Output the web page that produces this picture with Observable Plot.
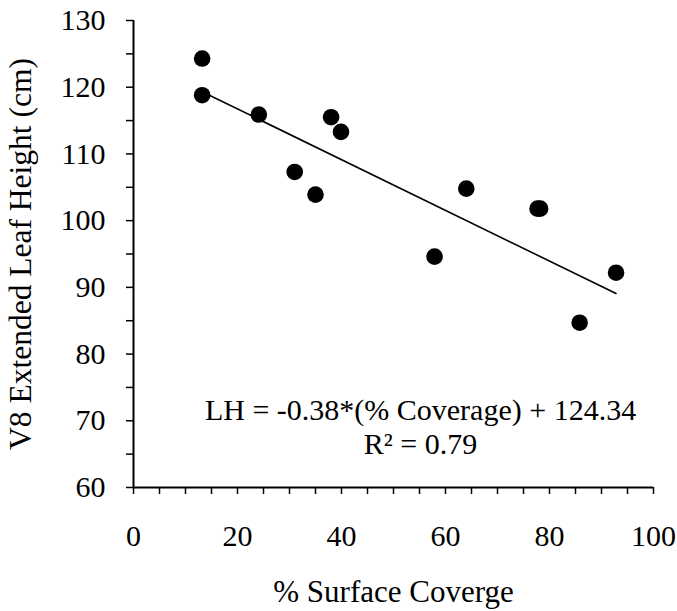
<!DOCTYPE html>
<html>
<head>
<meta charset="utf-8">
<script src="https://cdn.jsdelivr.net/npm/d3@7"></script>
<script src="https://cdn.jsdelivr.net/npm/@observablehq/plot@0.6"></script>
<style>
  body { margin: 0; background: #fff; }
</style>
</head>
<body>
<div id="chart"></div>
<script>
// Data
const coverage   = [13.2, 13.2, 24.1, 31.0, 35.0, 38.0, 39.9, 57.9, 64.0, 77.7, 78.2, 85.8, 92.8];
const leafHeight = [124.3, 118.8, 115.9, 107.3, 103.9, 115.5, 113.3, 94.6, 104.8, 101.8, 101.8, 84.7, 92.2];

// Fitted line (from the equation printed in the chart)
const slope = -0.38;
const intercept = 124.34;

// Ticks
const xMajorTicks = [0, 20, 40, 60, 80, 100];
const xMinorTicks = [5, 10, 15, 25, 30, 35, 45, 50, 55, 65, 70, 75, 85, 90, 95];
const yMajorTicks = [60, 70, 80, 90, 100, 110, 120, 130];
const yMinorTicks = [65, 75, 85, 95, 105, 115, 125];

// Labels
const xTitle = "% Surface Coverge";
const yTitle = "V8 Extended Leaf Height (cm)";
const annotationText = ["LH = -0.38*(% Coverage) + 124.34", "R² = 0.79"];
const annotationX = [55.2, 55.2];
const annotationY = [71.6, 66.5];

const points = coverage.map((c, i) => ({x: c, y: leafHeight[i]}));
const xMin = d3.min(coverage), xMax = d3.max(coverage);
const fit = [xMin, xMax].map(x => ({x, y: slope * x + intercept}));
const notes = annotationText.map((t, i) => ({t, x: annotationX[i], y: annotationY[i]}));

const chart = Plot.plot({
  width: 677,
  height: 611,
  marginLeft: 133,
  marginRight: 24,
  marginTop: 20,
  marginBottom: 124,
  style: {fontFamily: "Liberation Serif", fontSize: "30px"},
  x: {domain: [0, 100]},
  y: {domain: [60, 130]},
  marks: [
    Plot.axisX({ticks: xMajorTicks, tickSize: 7, tickPadding: 30, fontSize: 30, strokeWidth: 1.5, label: null}),
    Plot.axisX({ticks: xMinorTicks, tickSize: 7, text: null, strokeWidth: 1.5, label: null}),
    Plot.axisX({ticks: [], fontSize: 31, label: xTitle, labelAnchor: "center", labelOffset: 114, labelArrow: "none"}),
    Plot.axisY({ticks: yMajorTicks, tickSize: 7, tickPadding: 21, fontSize: 30, strokeWidth: 1.5, label: null}),
    Plot.axisY({ticks: yMinorTicks, tickSize: 7, text: null, strokeWidth: 1.5, label: null}),
    Plot.axisY({ticks: [], fontSize: 31.5, label: yTitle, labelAnchor: "center", labelOffset: 125, labelArrow: "none"}),
    Plot.ruleX([0], {stroke: "black", strokeWidth: 2}),
    Plot.ruleY([60], {stroke: "black", strokeWidth: 2}),
    Plot.line(fit, {x: "x", y: "y", stroke: "black", strokeWidth: 1.6}),
    Plot.dot(points, {x: "x", y: "y", r: 8.3, fill: "black", stroke: "none"}),
    Plot.text(notes, {x: "x", y: "y", text: "t", fontSize: 30, textAnchor: "middle", lineAnchor: "middle", fill: "black"})
  ]
});
document.getElementById("chart").appendChild(chart);
</script>
</body>
</html>
